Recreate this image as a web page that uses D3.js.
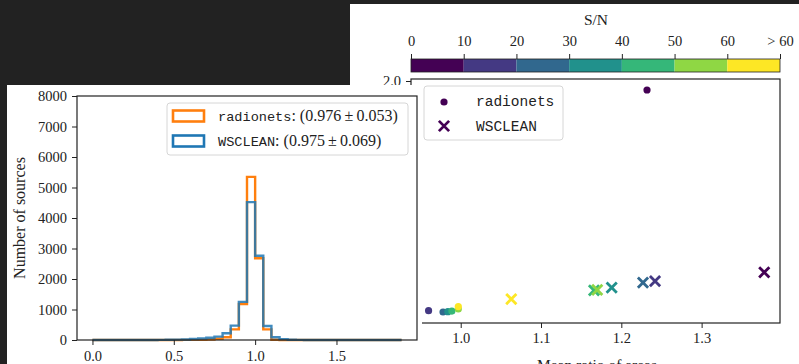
<!DOCTYPE html>
<html>
<head>
<meta charset="utf-8">
<script src="https://cdn.jsdelivr.net/npm/d3@7"></script>
<style>
  html, body { margin: 0; padding: 0; background: #222222; }
  svg { display: block; }
  .serif { font-family: "Liberation Serif", "Times New Roman", serif; fill: #222; }
  .mono { font-family: "Liberation Mono", "Courier New", monospace; fill: #222; }
</style>
</head>
<body>
<svg id="fig" width="799" height="364"></svg>
<script>
// ---------- data ----------
// Histogram of area ratios, bins of width 0.05 from 0.00 to 1.90
const binEdges = d3.range(0, 39).map(i => +(i * 0.05).toFixed(2));
const radionetsCounts = [0,0,0,0,0,0,0,0,0,1,2,3,5,10,18,40,90,350,1180,5350,2680,350,8,2,1,0,0,0,0,0,0,0,0,0,0,0,0,0];
const wscleanCounts   = [0,0,0,0,0,0,1,2,4,8,12,18,35,50,75,110,220,470,1250,4520,2760,460,90,30,8,4,2,1,1,0,0,0,0,0,0,0,0,0];
const histSeries = ["radionets", "WSCLEAN"];
const histLegend = [": (0.976\u2009\u00b1\u20090.053)", ": (0.975\u2009\u00b1\u20090.069)"];
const histTicksX = [0.0, 0.5, 1.0, 1.5];
const histTicksY = [0, 1000, 2000, 3000, 4000, 5000, 6000, 7000, 8000];

// Per S/N bin: mean area ratio (x) and spread (y)
const snBins = ["0-10", "10-20", "20-30", "30-40", "40-50", "50-60", ">60"];
const snColors = ["#440154", "#443983", "#31688e", "#21918c", "#35b779", "#8fd744", "#fde725"];
const radionetsX = [1.232, 0.960, 0.978, 0.984, 0.989, 0.997, 0.997];
const radionetsY = [1.925, 0.086, 0.075, 0.078, 0.083, 0.100, 0.120];
const wscleanX   = [1.378, 1.242, 1.227, 1.188, 1.166, 1.170, 1.063];
const wscleanY   = [0.406, 0.333, 0.319, 0.278, 0.256, 0.260, 0.183];
const scatterTicksX = [1.0, 1.1, 1.2, 1.3];
const scatterTicksY = [0.0, 0.5, 1.0, 1.5, 2.0];
const cbarTicks = [0, 10, 20, 30, 40, 50, 60, 70];
const cbarLabels = ["0", "10", "20", "30", "40", "50", "60", "> 60"];

const svg = d3.select("#fig");

// ================= right figure: scatter with colour bar =================
const right = svg.append("g");
right.append("rect").attr("x", 350).attr("y", 4).attr("width", 449).attr("height", 360).attr("fill", "#fff");

const sx = d3.scaleLinear().domain([0.9381, 1.3976]).range([411, 780]);
const sy = d3.scaleLinear().domain([-0.0167, 2.0167]).range([323, 79]);

// colour bar
const cb = d3.scaleLinear().domain([0, 70]).range([411, 780]);
right.selectAll("rect.cbar").data(snColors).join("rect")
  .attr("class", "cbar")
  .attr("x", (d, i) => cb(i * 10)).attr("y", 59)
  .attr("width", (d, i) => cb((i + 1) * 10) - cb(i * 10)).attr("height", 13)
  .attr("fill", d => d);
right.append("rect").attr("x", cb(0)).attr("y", 59).attr("width", cb(70) - cb(0)).attr("height", 13)
  .attr("fill", "none").attr("stroke", "#222").attr("stroke-width", 0.8);
const cbAxis = right.append("g").attr("transform", "translate(0,59)")
  .call(d3.axisTop(cb).tickValues(cbarTicks).tickFormat((d, i) => cbarLabels[i]).tickSize(5).tickPadding(8));
cbAxis.select(".domain").remove();
cbAxis.selectAll("line").attr("stroke", "#222").attr("stroke-width", 1);
cbAxis.selectAll("text").attr("class", "serif").attr("font-size", 14.5).attr("fill", "#222");
right.append("text").attr("class", "serif").attr("x", 596).attr("y", 25)
  .attr("text-anchor", "middle").attr("font-size", 15.5).text("S/N");

// scatter axes
const gx = right.append("g").attr("transform", "translate(0,323)")
  .call(d3.axisBottom(sx).tickValues(scatterTicksX).tickFormat(d3.format(".1f")).tickSize(5).tickPadding(5));
const gy = right.append("g").attr("transform", "translate(411,0)")
  .call(d3.axisLeft(sy).tickValues(scatterTicksY).tickFormat(d3.format(".1f")).tickSize(5).tickPadding(5));
[gx, gy].forEach(g => {
  g.select(".domain").remove();
  g.selectAll("line").attr("stroke", "#222").attr("stroke-width", 1);
  g.selectAll("text").attr("class", "serif").attr("font-size", 14.5).attr("fill", "#222");
});
right.append("rect").attr("x", 411).attr("y", 79).attr("width", 369).attr("height", 244)
  .attr("fill", "none").attr("stroke", "#222").attr("stroke-width", 1.2);
right.append("text").attr("class", "serif").attr("x", 597).attr("y", 370)
  .attr("text-anchor", "middle").attr("font-size", 15.5).text("Mean ratio of areas");

// markers
const crossPath = d3.symbol().type(d3.symbolX).size(70);
right.selectAll("path.ws").data(snBins).join("path")
  .attr("class", "ws")
  .attr("d", crossPath)
  .attr("transform", (d, i) => `translate(${sx(wscleanX[i])},${sy(wscleanY[i])})`)
  .attr("fill", "none").attr("stroke", (d, i) => snColors[i]).attr("stroke-width", 2.8);
right.selectAll("circle.rn").data(snBins).join("circle")
  .attr("class", "rn")
  .attr("cx", (d, i) => sx(radionetsX[i])).attr("cy", (d, i) => sy(radionetsY[i]))
  .attr("r", 3.6).attr("fill", (d, i) => snColors[i]);

// scatter legend
const leg2 = right.append("g");
leg2.append("rect").attr("x", 424).attr("y", 86).attr("width", 139).attr("height", 54).attr("rx", 3)
  .attr("fill", "#fff").attr("fill-opacity", 0.8).attr("stroke", "#d6d6d6").attr("stroke-width", 1);
leg2.append("circle").attr("cx", 444).attr("cy", 102).attr("r", 3.6).attr("fill", snColors[0]);
leg2.append("path").attr("d", crossPath).attr("transform", "translate(444,126)")
  .attr("fill", "none").attr("stroke", snColors[0]).attr("stroke-width", 2.8);
leg2.append("text").attr("class", "mono").attr("x", 476).attr("y", 106).attr("font-size", 14.5).text(histSeries[0]);
leg2.append("text").attr("class", "mono").attr("x", 476).attr("y", 131).attr("font-size", 14.5).text(histSeries[1]);

// ================= left figure: histogram =================
const left = svg.append("g");
left.append("rect").attr("x", 7).attr("y", 85).attr("width", 415).attr("height", 279).attr("fill", "#fff");

const hx = d3.scaleLinear().domain([-0.095, 1.995]).range([77, 417]);
const hy = d3.scaleLinear().domain([0, 8000]).range([340, 96]);

function stepPoints(counts) {
  const pts = [[binEdges[0], 0]];
  counts.forEach((c, i) => { pts.push([binEdges[i], c]); pts.push([binEdges[i + 1], c]); });
  pts.push([binEdges[binEdges.length - 1], 0]);
  return pts;
}
const stepLine = d3.line().x(d => hx(d[0])).y(d => hy(d[1]));
const histColors = ["#ff7f0e", "#1f77b4"];
[radionetsCounts, wscleanCounts].forEach((counts, k) => {
  left.append("path").attr("d", stepLine(stepPoints(counts)))
    .attr("fill", "none").attr("stroke", histColors[k]).attr("stroke-width", 2.4)
    .attr("stroke-opacity", k === 1 ? 0.85 : 1).attr("stroke-linejoin", "miter");
});

const hgx = left.append("g").attr("transform", "translate(0,340)")
  .call(d3.axisBottom(hx).tickValues(histTicksX).tickFormat(d3.format(".1f")).tickSize(5).tickPadding(6));
const hgy = left.append("g").attr("transform", "translate(77,0)")
  .call(d3.axisLeft(hy).tickValues(histTicksY).tickFormat(d3.format("d")).tickSize(5).tickPadding(5));
[hgx, hgy].forEach(g => {
  g.select(".domain").remove();
  g.selectAll("line").attr("stroke", "#222").attr("stroke-width", 1);
  g.selectAll("text").attr("class", "serif").attr("font-size", 14.5).attr("fill", "#222");
});
left.append("rect").attr("x", 77).attr("y", 96).attr("width", 340).attr("height", 244)
  .attr("fill", "none").attr("stroke", "#222").attr("stroke-width", 1.2);
left.append("text").attr("class", "serif").attr("font-size", 16)
  .attr("transform", "translate(25,218) rotate(-90)").attr("text-anchor", "middle").text("Number of sources");

// histogram legend
const leg1 = left.append("g");
leg1.append("rect").attr("x", 167).attr("y", 103).attr("width", 241).attr("height", 52).attr("rx", 3)
  .attr("fill", "#fff").attr("fill-opacity", 0.8).attr("stroke", "#d6d6d6").attr("stroke-width", 1);
histSeries.forEach((name, k) => {
  const cy = 116 + k * 25;
  leg1.append("rect").attr("x", 173).attr("y", cy - 5.5).attr("width", 31).attr("height", 11)
    .attr("fill", "none").attr("stroke", histColors[k]).attr("stroke-width", 2.6);
  const t = leg1.append("text").attr("x", 218).attr("y", cy + 5);
  t.append("tspan").attr("class", "mono").attr("font-size", 13.6).text(name);
  t.append("tspan").attr("class", "serif").attr("font-size", 16).text(histLegend[k]);
});
</script>
</body>
</html>
